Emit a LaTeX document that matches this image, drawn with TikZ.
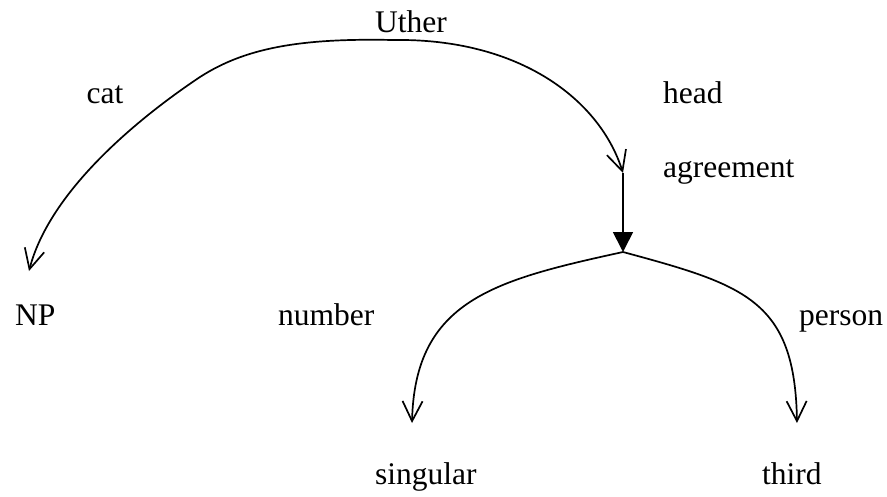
\documentclass[tikz,border=0pt]{standalone}
\usepackage{fontspec}
\setmainfont{Liberation Serif}
\usetikzlibrary{arrows.meta}
\begin{document}
\begin{tikzpicture}[x=1pt,y=-1pt,
  lbl/.style={inner sep=0pt,font=\fontsize{31.5}{36}\selectfont},
  edge/.style={line width=1.7pt,-{Straight Barb[length=20pt,width=20pt,line width=1.7pt]}}]
\useasboundingbox (0,0) rectangle (887,496);
% labels
\node[lbl,anchor=base] (uther) at (411,32) {Uther};
\node[lbl,anchor=base] (cat) at (105,103) {cat};
\node[lbl,anchor=base west] (head) at (663,103) {head};
\node[lbl,anchor=base west] (agr) at (663,177) {agreement};
\node[lbl,anchor=base west] (np) at (15,325) {NP};
\node[lbl,anchor=base west] (num) at (278,325) {number};
\node[lbl,anchor=base west] (per) at (799,325) {person};
\node[lbl,anchor=base west] (sing) at (375,484) {singular};
\node[lbl,anchor=base west] (third) at (762,484) {third};
% points
\coordinate (r) at (393,40);
\coordinate (mid) at (200,77);
\coordinate (npt) at (29,271);
\coordinate (ht) at (623,173);
\coordinate (at) at (623,252);
\coordinate (st) at (412,423);
\coordinate (tt) at (797,423);
% edges
\draw[edge] (r) .. controls (300,38) and (245,48) .. (mid)
            .. controls (140,117) and (50,190) .. (npt);
\draw[edge] (r) .. controls (520,38) and (600,100) .. (ht);
\draw[line width=1.7pt,-{Triangle[length=20pt,width=20pt]}] (ht) -- (at);
\draw[edge] (at) .. controls (495,280) and (415,300) .. (st);
\draw[edge] (at) .. controls (745,285) and (795,300) .. (tt);
\end{tikzpicture}
\end{document}
